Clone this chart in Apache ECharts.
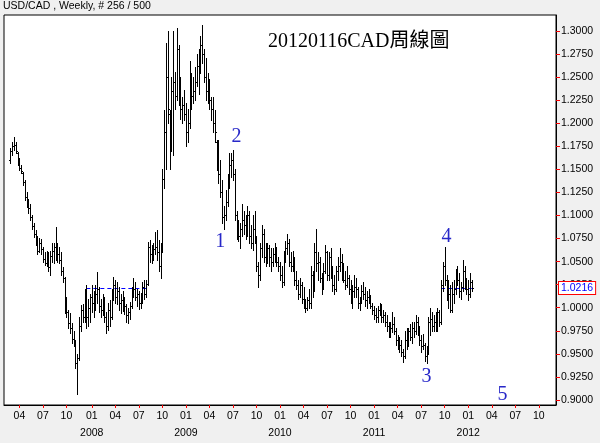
<!DOCTYPE html>
<html><head><meta charset="utf-8">
<script src="https://cdn.jsdelivr.net/npm/echarts@6/dist/echarts.min.js"></script>
<style>html,body{margin:0;padding:0;background:#f0f0f0}#c{width:600px;height:443px}</style>
</head><body><div id="c"></div><script>
// weekly bars, first bar week of 2007-02-26, last bar week of 2012-01-16
const firstWeekUTC = Date.UTC(2007, 1, 26);
const leadWeeks = 3;      // empty weeks before first bar
const tailWeeks = 46;     // empty future weeks after last bar

const open = [
1.160,1.170,1.175,1.176,1.168,1.158,1.152,1.146,1.136,1.120,
1.112,1.108,1.098,1.089,1.080,1.072,1.062,1.070,1.064,1.053,
1.049,1.058,1.044,1.056,1.062,1.066,1.060,1.058,1.052,1.040,
1.032,1.000,0.995,0.983,0.978,0.966,0.962,0.940,0.945,0.980,
0.998,0.990,1.012,0.990,1.000,1.012,1.005,1.010,1.015,1.020,
1.002,0.998,1.010,0.990,0.980,0.998,0.990,1.015,1.025,1.012,
1.018,1.005,1.008,1.000,1.002,0.992,0.995,1.002,1.018,1.020,
1.012,1.015,1.005,1.010,1.022,1.015,1.026,1.066,1.058,1.055,
1.064,1.066,1.060,1.045,1.065,1.140,1.190,1.250,1.210,1.180,
1.235,1.245,1.230,1.280,1.240,1.215,1.220,1.210,1.190,1.200,
1.250,1.230,1.235,1.245,1.262,1.265,1.285,1.275,1.250,1.235,
1.240,1.225,1.215,1.200,1.180,1.160,1.145,1.125,1.098,1.100,
1.115,1.138,1.155,1.160,1.145,1.100,1.080,1.078,1.085,1.095,
1.090,1.082,1.100,1.078,1.070,1.085,1.075,1.045,1.035,1.065,
1.080,1.055,1.060,1.065,1.055,1.050,1.058,1.060,1.050,1.045,
1.035,1.028,1.055,1.065,1.070,1.050,1.045,1.052,1.030,1.025,
1.015,1.025,1.010,1.005,1.000,1.008,1.005,1.035,1.020,1.060,
1.048,1.050,1.032,1.022,1.040,1.060,1.035,1.055,1.040,1.025,
1.020,1.040,1.045,1.050,1.035,1.030,1.025,1.032,1.020,1.010,
1.018,1.022,1.020,1.005,1.008,1.018,1.015,1.008,1.012,1.010,
1.002,0.998,0.992,0.990,0.998,1.002,0.990,0.992,0.985,0.980,
0.972,0.978,0.982,0.975,0.965,0.958,0.960,0.952,0.948,0.965,
0.962,0.975,0.968,0.978,0.975,0.985,0.975,0.965,0.958,0.960,
0.948,0.952,0.985,0.988,0.980,0.985,0.990,0.995,0.985,1.025,
1.045,1.030,1.012,1.015,0.998,1.015,1.020,1.035,1.030,1.018,
1.022,1.040,1.025,1.020,1.015,1.028];
const high = [
1.173,1.180,1.185,1.180,1.169,1.162,1.155,1.147,1.138,1.126,
1.118,1.112,1.100,1.092,1.084,1.078,1.076,1.075,1.066,1.060,
1.062,1.060,1.062,1.070,1.070,1.088,1.070,1.066,1.060,1.044,
1.033,1.012,0.998,0.994,0.984,0.975,0.965,0.950,0.990,1.003,
1.004,1.020,1.025,1.010,1.015,1.025,1.018,1.025,1.039,1.022,
1.010,1.015,1.012,0.995,1.005,1.008,1.020,1.033,1.030,1.028,
1.022,1.015,1.018,1.012,1.004,1.000,1.006,1.022,1.032,1.028,
1.020,1.018,1.016,1.028,1.030,1.030,1.071,1.073,1.068,1.070,
1.082,1.084,1.073,1.070,1.150,1.214,1.287,1.300,1.214,1.250,
1.300,1.256,1.303,1.285,1.250,1.228,1.236,1.222,1.215,1.268,
1.255,1.250,1.261,1.275,1.280,1.295,1.307,1.280,1.271,1.255,
1.248,1.228,1.228,1.214,1.182,1.182,1.160,1.138,1.110,1.128,
1.145,1.168,1.168,1.171,1.150,1.105,1.095,1.092,1.112,1.105,
1.100,1.110,1.105,1.090,1.100,1.105,1.078,1.050,1.070,1.090,
1.085,1.070,1.070,1.068,1.065,1.065,1.070,1.066,1.055,1.050,
1.045,1.062,1.072,1.080,1.075,1.060,1.062,1.055,1.040,1.030,
1.032,1.028,1.022,1.010,1.012,1.020,1.045,1.040,1.070,1.085,
1.060,1.055,1.038,1.048,1.068,1.062,1.060,1.065,1.045,1.035,
1.045,1.055,1.065,1.058,1.048,1.040,1.045,1.035,1.030,1.025,
1.035,1.032,1.022,1.012,1.025,1.028,1.022,1.018,1.020,1.014,
1.005,1.002,1.000,1.002,1.005,1.004,0.998,0.995,0.992,0.985,
0.985,0.995,0.990,0.978,0.970,0.968,0.965,0.955,0.975,0.978,
0.978,0.982,0.985,0.985,0.992,0.990,0.980,0.970,0.972,0.962,
0.958,0.990,1.000,0.995,0.992,0.995,1.000,0.998,1.030,1.050,
1.066,1.035,1.030,1.025,1.028,1.030,1.042,1.045,1.038,1.028,
1.052,1.045,1.032,1.030,1.038,1.030];
const low = [
1.157,1.166,1.171,1.168,1.155,1.149,1.146,1.133,1.117,1.109,
1.103,1.095,1.085,1.077,1.068,1.058,1.060,1.058,1.050,1.046,
1.045,1.040,1.036,1.050,1.049,1.052,1.050,1.048,1.036,1.028,
0.994,0.990,0.978,0.973,0.962,0.958,0.935,0.906,0.943,0.975,
0.985,0.985,0.978,0.980,0.985,0.995,0.990,0.998,1.005,0.995,
0.990,0.992,0.985,0.973,0.976,0.980,0.988,1.008,1.005,1.004,
0.998,0.994,0.996,0.993,0.985,0.984,0.988,1.000,1.012,1.008,
1.002,0.999,1.000,1.005,1.010,1.012,1.025,1.050,1.048,1.052,
1.058,1.052,1.040,1.032,1.060,1.130,1.150,1.200,1.150,1.170,
1.166,1.215,1.225,1.220,1.205,1.200,1.203,1.175,1.180,1.195,
1.215,1.222,1.225,1.240,1.232,1.255,1.265,1.245,1.225,1.222,
1.215,1.203,1.190,1.180,1.149,1.135,1.120,1.092,1.085,1.095,
1.110,1.130,1.142,1.138,1.095,1.075,1.072,1.065,1.078,1.080,
1.075,1.078,1.070,1.065,1.063,1.070,1.040,1.022,1.030,1.055,
1.050,1.045,1.048,1.045,1.040,1.045,1.050,1.045,1.040,1.030,
1.022,1.025,1.050,1.058,1.045,1.040,1.040,1.025,1.020,1.010,
1.012,1.005,1.000,0.995,0.998,1.000,1.000,1.012,1.018,1.040,
1.030,1.028,1.015,1.020,1.038,1.030,1.030,1.032,1.018,1.015,
1.018,1.030,1.040,1.030,1.028,1.020,1.022,1.015,1.005,1.000,
1.012,1.012,1.000,0.998,1.005,1.010,1.002,1.000,1.005,1.000,
0.993,0.988,0.985,0.985,0.992,0.985,0.985,0.980,0.975,0.968,
0.968,0.974,0.972,0.960,0.955,0.952,0.948,0.941,0.945,0.955,
0.958,0.965,0.962,0.968,0.972,0.970,0.960,0.952,0.955,0.942,
0.940,0.950,0.970,0.975,0.975,0.975,0.975,0.980,0.982,1.018,
1.025,1.008,1.000,0.995,0.995,1.005,1.015,1.025,1.012,1.010,
1.018,1.020,1.015,1.008,1.012,1.018];
const close = [
1.170,1.175,1.176,1.170,1.158,1.152,1.148,1.136,1.120,1.112,
1.108,1.098,1.089,1.080,1.072,1.062,1.070,1.064,1.053,1.049,
1.058,1.044,1.056,1.062,1.066,1.060,1.058,1.052,1.040,1.032,
1.000,0.995,0.983,0.978,0.966,0.962,0.940,0.945,0.980,0.998,
0.990,1.012,0.990,1.000,1.012,1.005,1.010,1.015,1.020,1.002,
0.998,1.010,0.990,0.980,0.998,0.990,1.015,1.025,1.012,1.018,
1.005,1.008,1.000,1.002,0.992,0.995,1.002,1.018,1.020,1.012,
1.015,1.005,1.010,1.022,1.015,1.026,1.066,1.058,1.055,1.064,
1.066,1.060,1.045,1.062,1.140,1.190,1.250,1.215,1.180,1.235,
1.245,1.230,1.280,1.240,1.215,1.220,1.210,1.190,1.200,1.250,
1.230,1.235,1.245,1.262,1.265,1.285,1.275,1.250,1.235,1.240,
1.225,1.215,1.200,1.190,1.160,1.145,1.125,1.098,1.100,1.115,
1.138,1.155,1.160,1.145,1.100,1.080,1.078,1.085,1.095,1.090,
1.082,1.100,1.078,1.070,1.085,1.075,1.045,1.035,1.065,1.080,
1.055,1.060,1.065,1.055,1.050,1.058,1.060,1.050,1.045,1.035,
1.028,1.055,1.065,1.070,1.050,1.045,1.052,1.030,1.025,1.015,
1.025,1.010,1.005,1.000,1.008,1.005,1.035,1.020,1.060,1.048,
1.050,1.032,1.022,1.040,1.060,1.035,1.055,1.040,1.025,1.020,
1.040,1.045,1.050,1.035,1.030,1.025,1.032,1.020,1.010,1.018,
1.022,1.020,1.005,1.008,1.018,1.015,1.008,1.012,1.010,1.002,
0.998,0.992,0.990,0.998,1.002,0.990,0.992,0.985,0.980,0.972,
0.978,0.982,0.975,0.965,0.958,0.960,0.952,0.948,0.965,0.962,
0.975,0.968,0.978,0.975,0.985,0.975,0.965,0.958,0.960,0.948,
0.952,0.985,0.988,0.980,0.985,0.990,0.995,0.985,1.025,1.045,
1.030,1.012,1.015,0.998,1.015,1.020,1.035,1.030,1.018,1.022,
1.040,1.025,1.020,1.015,1.028,1.0216];

const yTicks = [0.900,0.925,0.950,0.975,1.000,1.025,1.050,1.075,1.100,1.125,1.150,1.175,1.200,1.225,1.250,1.275,1.300];
const yMin = 0.89458, yMax = 1.31734;
const lastPrice = 1.0216;
const priceLineWeeks = [[42, 75], [238, 255]];   // week ranges where the dashed price line shows
const quarterMonths = [1, 4, 7, 10];

const waveText  = ['1', '2', '3', '4', '5'];
const waveWeek  = [116, 125, 230, 241, 272];
const waveValue = [1.0713, 1.1851, 0.9249, 1.0767, 0.9054];

const headerText = 'USD/CAD , Weekly, # 256 / 500';
const titleText = '20120116CAD周線圖';

// categories (weekly dates)
const WEEK = 7 * 86400000;
const nCats = leadWeeks + open.length + tailWeeks;
const categories = [];
for (let k = 0; k < nCats; k++) {
  const d = new Date(firstWeekUTC + (k - leadWeeks) * WEEK);
  categories.push(d.toISOString().slice(0, 10));
}
const tickIdx = new Set();
for (let k = 1; k < nCats; k++) {
  const m = +categories[k].slice(5, 7), pm = +categories[k - 1].slice(5, 7);
  if (m !== pm && quarterMonths.indexOf(m) >= 0) tickIdx.add(k);
}
const showTick = (idx) => tickIdx.has(idx);

const ohlcData = open.map((o, i) => [leadWeeks + i, o, high[i], low[i], close[i]]);
const waveData = waveText.map((t, i) => [leadWeeks + waveWeek[i], waveValue[i]]);
const lastIdx = leadWeeks + open.length - 1;
const priceLineData = priceLineWeeks.map(r => [leadWeeks + r[0], leadWeeks + r[1], lastPrice]);

const chart = echarts.init(document.getElementById('c'), null, {renderer: 'canvas'});
chart.setOption({
  backgroundColor: '#f0f0f0',
  animation: false,
  title: [
    {text: headerText, left: 3, top: 1, padding: 0,
     textStyle: {fontFamily: 'Liberation Sans', fontSize: 10.5, fontWeight: 'normal', color: '#000'}},
    {text: titleText, left: 268, top: 32, padding: 0,
     textStyle: {fontFamily: '"Liberation Serif", "Noto Sans CJK TC"', fontSize: 20, fontWeight: 'normal', color: '#000'}}
  ],
  grid: {left: 4, right: 44, top: 15, bottom: 38, show: true, backgroundColor: '#fff', borderColor: '#000', borderWidth: 1},
  xAxis: {
    type: 'category', data: categories, boundaryGap: true,
    axisLine: {show: true, lineStyle: {color: '#000', width: 1}},
    axisTick: {show: true, interval: showTick, alignWithLabel: true, length: 3, lineStyle: {color: '#ff0000'}},
    axisLabel: {
      interval: showTick, margin: 5, color: '#000', fontFamily: 'Liberation Sans', fontSize: 10.5,
      formatter: (v) => {
        const m = v.slice(5, 7);
        return m === '01' ? '{m|' + m + '}\n{y|' + v.slice(0, 4) + '}' : '{m|' + m + '}';
      },
      rich: {m: {lineHeight: 12, fontSize: 10.5, fontFamily: 'Liberation Sans', color: '#000'},
             y: {lineHeight: 22, fontSize: 10.5, fontFamily: 'Liberation Sans', color: '#000'}}
    },
    splitLine: {show: false}
  },
  yAxis: {
    type: 'value', position: 'right', min: yMin, max: yMax, scale: true,
    axisLine: {show: true, lineStyle: {color: '#000'}},
    axisTick: {show: true, length: 4, customValues: yTicks, lineStyle: {color: '#ff0000'}},
    axisLabel: {margin: 5, customValues: yTicks, color: '#000', fontFamily: 'Liberation Sans', fontSize: 10.5,
                formatter: (v) => v.toFixed(4)},
    splitLine: {show: false}
  },
  series: [
    {
      // dashed current-price line segments
      type: 'custom', name: 'priceLine', data: priceLineData, silent: true, z: 1,
      renderItem: function (params, api) {
        const a = api.coord([api.value(0), api.value(2)]);
        const b = api.coord([api.value(1), api.value(2)]);
        const y = Math.round(a[1]) + 0.5;
        return {type: 'line', shape: {x1: a[0], y1: y, x2: b[0], y2: y},
                style: {stroke: '#0000ff', lineWidth: 1, lineDash: [4, 3]}};
      }
    },
    {
      type: 'custom', name: 'USD/CAD', data: ohlcData, z: 2,
      encode: {x: 0, y: [1, 2, 3, 4]},
      renderItem: function (params, api) {
        const idx = api.value(0);
        const pO = api.coord([idx, api.value(1)]);
        const pH = api.coord([idx, api.value(2)]);
        const pL = api.coord([idx, api.value(3)]);
        const pC = api.coord([idx, api.value(4)]);
        const x = Math.round(pO[0]) + 0.5;
        const yo = Math.round(pO[1]) + 0.5, yc = Math.round(pC[1]) + 0.5;
        const st = {stroke: '#000', lineWidth: 1};
        return {type: 'group', children: [
          {type: 'line', shape: {x1: x, y1: Math.round(pH[1]), x2: x, y2: Math.round(pL[1]) + 1}, style: st},
          {type: 'line', shape: {x1: x - 1.5, y1: yo, x2: x, y2: yo}, style: st},
          {type: 'line', shape: {x1: x, y1: yc, x2: x + 1.5, y2: yc}, style: st}
        ]};
      }
    },
    {
      // current price tag on the right axis
      type: 'custom', name: 'last', data: [[lastIdx, lastPrice]], silent: true, clip: false, z: 10,
      renderItem: function (params, api) {
        const p = api.coord([api.value(0), api.value(1)]);
        const cs = params.coordSys;
        return {type: 'text', x: cs.x + cs.width + 3, y: Math.round(p[1]), style: {
          text: lastPrice.toFixed(4), fill: '#0000ff', font: '10.5px "Liberation Sans"',
          align: 'left', verticalAlign: 'middle',
          backgroundColor: '#fff', borderColor: '#ff0000', borderWidth: 1, padding: [1, 2, 0, 2]}};
      }
    },
    {
      type: 'custom', name: 'wave', data: waveData, silent: true,
      renderItem: function (params, api) {
        const p = api.coord([api.value(0), api.value(1)]);
        return {type: 'text', x: p[0], y: p[1], style: {
          text: waveText[params.dataIndex], fill: '#2727c8',
          font: '20px "Liberation Serif"', align: 'center', verticalAlign: 'middle'}};
      }
    }
  ]
});
</script></body></html>
